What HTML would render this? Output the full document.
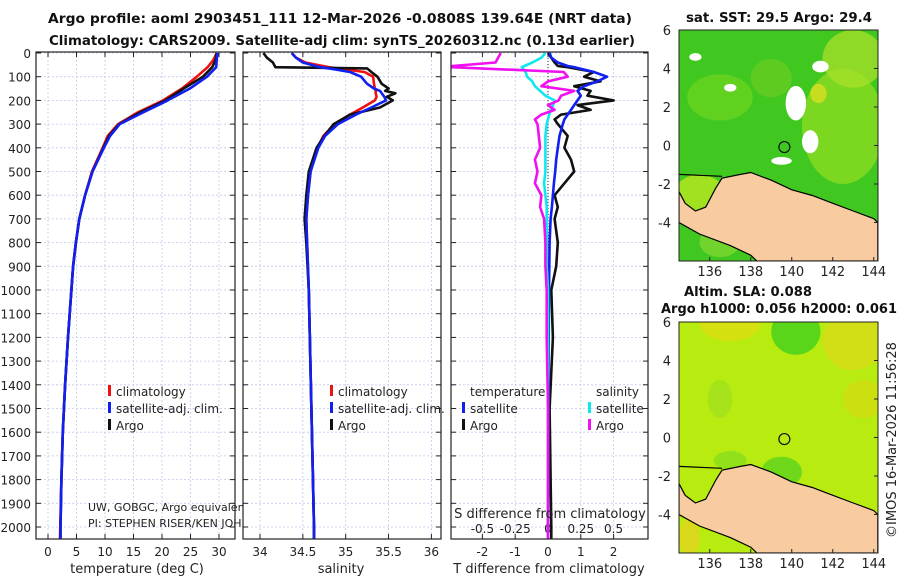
<!DOCTYPE html>
<html><head><meta charset="utf-8"><style>
body{margin:0;background:#fff;}
svg{display:block;font-family:"DejaVu Sans","Liberation Sans",sans-serif;}
</style></head><body>
<svg id="c" width="900" height="580" viewBox="0 0 900 580"></svg>
<script>
// ---------- data ----------
const depthT = [0,30,60,100,150,200,250,300,350,400,500,600,700,800,900,1000,1200,1400,1600,1800,2000,2050];
const tempClim = [29.6,29.0,28.0,26.1,23.5,20.2,15.8,12.3,10.5,9.6,7.7,6.5,5.5,4.9,4.4,4.1,3.5,3.0,2.6,2.35,2.15,2.1];
const tempSat  = [29.7,29.6,29.5,27.9,24.9,21.0,16.7,12.6,10.9,9.8,7.8,6.5,5.5,4.9,4.4,4.1,3.5,3.0,2.6,2.35,2.2,2.2];
const tempArgo = [29.6,29.4,28.8,27.2,23.8,20.6,16.2,12.5,10.7,9.7,7.8,6.5,5.5,4.9,4.4,4.1,3.5,3.0,2.6,2.35,2.2,2.2];
const depthS = [0,20,40,60,65,80,100,130,150,160,170,185,200,230,260,300,350,400,500,600,700,800,1000,1500,2000,2050];
const salClim = [34.37,34.42,34.53,34.8,34.9,35.22,35.32,35.33,35.34,35.35,35.35,35.36,35.34,35.2,35.05,34.87,34.74,34.67,34.59,34.56,34.54,34.55,34.57,34.6,34.63,34.63];
const salSat  = [34.37,34.42,34.5,34.7,34.8,35.05,35.18,35.25,35.33,35.4,35.42,35.45,35.47,35.3,35.12,34.91,34.76,34.68,34.59,34.56,34.54,34.55,34.57,34.6,34.63,34.63];
const salArgo = [34.04,34.08,34.15,34.18,35.25,35.3,35.37,35.42,35.5,35.46,35.58,35.48,35.55,35.4,35.05,34.86,34.75,34.66,34.57,34.54,34.52,34.54,34.57,34.6,34.63,34.63];
const depthD = [0,20,40,55,60,80,100,120,140,160,180,200,220,240,260,280,300,350,400,450,500,550,600,650,700,800,900,1000,1200,1500,2000,2050];
const dTsat  = [0.05,0.1,0.3,0.6,0.8,1.4,1.8,1.5,1.1,0.9,1.0,0.9,0.8,0.7,0.6,0.5,0.45,0.35,0.3,0.25,0.22,0.18,0.15,0.12,0.08,0.05,0.04,0.03,0.02,0.01,0.0,0.0];
const dTargo = [0.0,0.1,0.2,0.3,0.6,1.4,1.1,1.6,0.8,1.3,1.2,2.0,0.9,1.3,0.4,0.2,0.3,0.6,0.5,0.7,0.8,0.5,0.2,0.3,0.2,0.3,0.25,0.1,0.15,0.05,0.1,0.1];
const dSsat  = [-0.02,-0.05,-0.12,-0.18,-0.2,-0.17,-0.16,-0.12,-0.1,-0.06,-0.02,0.05,0.04,0.02,0.01,0.0,-0.01,-0.02,-0.02,-0.02,-0.02,-0.03,-0.02,-0.01,-0.01,-0.01,-0.01,0.0,0.0,0.0,0.0,0.0];
const dSargo = [-0.36,-0.38,-0.4,-0.73,-0.73,0.12,0.15,0.0,-0.05,0.2,0.1,0.08,0.0,0.05,-0.05,-0.1,-0.08,-0.07,-0.06,-0.1,-0.08,-0.1,-0.05,-0.06,-0.03,-0.02,-0.02,-0.01,-0.01,0.0,0.0,0.0];
const depthTicks = [0,100,200,300,400,500,600,700,800,900,1000,1100,1200,1300,1400,1500,1600,1700,1800,1900,2000];
const tTicks = [0,5,10,15,20,25,30];
const sTicks = [34,34.5,35,35.5,36];
const dtTicks = [-2,-1,0,1,2];
const dsTicks = [-0.5,-0.25,0,0.25,0.5];
const lonTicks = [136,138,140,142,144];
const latTicks = [6,4,2,0,-2,-4];
const argoLon = 139.64, argoLat = -0.08;

// ---------- helpers ----------
const svg = document.getElementById('c');
const NS = 'http://www.w3.org/2000/svg';
function mk(tag, attrs, parent){const e=document.createElementNS(NS,tag);for(const k in attrs)e.setAttribute(k,attrs[k]);(parent||svg).appendChild(e);return e;}
function txt(s,x,y,opt,parent){const t=mk('text',Object.assign({x:x,y:y,'font-size':12,fill:'#222'},opt||{}),parent);t.textContent=s;return t;}
const Y = d => 53 + d*0.237;
const TOP=52, BOT=539;

function clipG(x0,x1){const id='pc'+x0;const cp=mk('clipPath',{id:id});mk('rect',{x:x0,y:TOP,width:x1-x0,height:BOT-TOP},cp);return mk('g',{'clip-path':'url(#'+id+')'});}

function panel(name,x0,x1,xs,ticks,fmt){
  const g=mk('g',{});
  
  
  ticks.forEach(v=>{mk('line',{x1:xs(v),x2:xs(v),y1:TOP,y2:BOT,stroke:'#c4c8ec','stroke-width':0.8,'stroke-dasharray':'2,2'},g);});
  depthTicks.forEach(v=>{mk('line',{x1:x0,x2:x1,y1:Y(v),y2:Y(v),stroke:'#c4c8ec','stroke-width':0.8,'stroke-dasharray':'2,2'},g);
    mk('line',{x1:x0,x2:x0+5,y1:Y(v),y2:Y(v),stroke:'#222'},g);mk('line',{x1:x1-5,x2:x1,y1:Y(v),y2:Y(v),stroke:'#222'},g);});
  ticks.forEach(v=>{mk('line',{x1:xs(v),x2:xs(v),y1:BOT,y2:BOT-5,stroke:'#222'},g);mk('line',{x1:xs(v),x2:xs(v),y1:TOP,y2:TOP+5,stroke:'#222'},g);
    if(fmt){const t=txt(fmt(v),xs(v),556,{'text-anchor':'middle'},g);}});
  return g;
}
function frame(x0,x1){mk('rect',{x:x0,y:TOP,width:x1-x0,height:BOT-TOP,fill:'none',stroke:'#222','stroke-width':1.2});}
function line(name,xs,vals,deps,color,w){
  const p=vals.map((v,i)=>xs(v).toFixed(1)+','+Y(deps[i]).toFixed(1)).join(' ');
  const e=mk('polyline',{points:p,fill:'none',stroke:color,'stroke-width':w,'stroke-linejoin':'round'});
  
  
}

// titles
let t1=txt('Argo profile: aoml 2903451_111 12-Mar-2026 -0.0808S 139.64E (NRT data)',340,23,{'text-anchor':'middle','font-weight':'bold','font-size':13,fill:'#111',textLength:584,lengthAdjust:'spacingAndGlyphs'});

let t2=txt('Climatology: CARS2009. Satellite-adj clim: synTS_20260312.nc (0.13d earlier)',342,45,{'text-anchor':'middle','font-weight':'bold','font-size':13,fill:'#111',textLength:586,lengthAdjust:'spacingAndGlyphs'});


// depth labels
depthTicks.forEach(v=>{const t=txt(String(v),31,Y(v)+5,{'text-anchor':'end'});});

// panel 1 temperature
const xT = v => 48 + v*5.7;
panel('temperature-panel',36,235,xT,tTicks,v=>String(v));
line('temp-climatology',xT,tempClim,depthT,'#f01010',2.6);
line('temp-argo',xT,tempArgo,depthT,'#111',2.6);
line('temp-satellite',xT,tempSat,depthT,'#1020f0',2.6);
let a=txt('temperature (deg C)',137,573,{'text-anchor':'middle','font-size':13});

// panel 2 salinity
const xS = v => 260 + (v-34)*85.7;
panel('salinity-panel',243,441,xS,sTicks,v=>String(v));
line('sal-climatology',xS,salClim,depthS,'#f01010',2.6);
line('sal-argo',xS,salArgo,depthS,'#111',2.6);
line('sal-satellite',xS,salSat,depthS,'#1020f0',2.6);
a=txt('salinity',341,573,{'text-anchor':'middle','font-size':13});

// panel 3 differences
const xD = v => 548 + v*32.8;
const xDS = v => 548 + v*131.2;
panel('difference-panel',451,648,xD,dtTicks,v=>String(v));
mk('line',{x1:548,x2:548,y1:TOP,y2:BOT,stroke:'#333','stroke-width':1,'stroke-dasharray':'1,2'});
dsTicks.forEach(v=>{const t=txt(String(v),xDS(v),533,{'text-anchor':'middle'});});
line('dT-argo',xD,dTargo,depthD,'#111',2.6);
line('dT-satellite',xD,dTsat,depthD,'#1020f0',2.6);
line('dS-satellite',xDS,dSsat,depthD,'#10e8f0',2.6);
line('dS-argo',xDS,dSargo,depthD,'#f010f0',2.6);
a=txt('S difference from climatology',550,518,{'text-anchor':'middle','font-size':13});
a=txt('T difference from climatology',549,573,{'text-anchor':'middle','font-size':13});

// legends (clipped at the next panel's frame)
const g1=clipG(36,243), g2=clipG(243,451), g3=clipG(451,660);
function leg(name,x,y,color,label,par){const g=mk('g',{},par);
  mk('rect',{x:x,y:y-11,width:3,height:11,fill:color},g);txt(label,x+8,y,{'font-size':12},g);}
leg('legend-climatology',108,396,'#f01010','climatology',g1);
leg('legend-satellite-adj',108,413,'#1020f0','satellite-adj. clim.',g1);
leg('legend-argo',108,430,'#111','Argo',g1);
leg('legend-climatology-2',330,396,'#f01010','climatology',g2);
leg('legend-satellite-adj-2',330,413,'#1020f0','satellite-adj. clim.',g2);
leg('legend-argo-2',330,430,'#111','Argo',g2);
a=txt('temperature',470,396,{'font-size':12},g3);
leg('legend-t-satellite',462,413,'#1020f0','satellite',g3);
leg('legend-t-argo',462,430,'#111','Argo',g3);
a=txt('salinity',596,396,{'font-size':12},g3);
leg('legend-s-satellite',588,413,'#10e8f0','satellite',g3);
leg('legend-s-argo',588,430,'#f010f0','Argo',g3);
a=txt('UW, GOBGC, Argo equivalent',88,511,{'font-size':11},g1);
a=txt('PI: STEPHEN RISER/KEN JOHNSON',88,527,{'font-size':11},g1);
frame(36,235);frame(243,441);frame(451,648);

// ---------- maps ----------
const MX0=679, MX1=878;
const lonX = l => 679 + (l-134.5)*20.5;
const land = [[134.5,-2.4],[134.8,-3.0],[135.3,-3.4],[135.8,-3.2],[136.3,-2.2],[136.6,-1.7],[137.5,-1.5],[138,-1.4],[139,-1.8],[140,-2.3],[141,-2.6],[142,-3.0],[143,-3.4],[144,-3.8],[144.2,-4.0],[144.2,-6],[138.3,-6],[138,-5.7],[137,-5.2],[135.5,-4.6],[134.5,-4.0]];
function map(name,y0,style){
  const latY = l => y0 + (6-l)*19.25;
  const y1 = latY(-6);
  const g=mk('g',{});
  const cid='clip'+y0;
  const cp=mk('clipPath',{id:cid},g);mk('rect',{x:MX0,y:y0,width:MX1-MX0,height:y1-y0},cp);
  const gi=mk('g',{'clip-path':'url(#'+cid+')'},g);
  if(style==='sst'){
    mk('rect',{x:MX0,y:y0,width:MX1-MX0,height:y1-y0,fill:'#40c820'},gi);
    [[142.5,1,2,3,'#90dc20'],[143,4.5,1.5,1.5,'#a8e028'],[136.5,2.5,1.6,1.2,'#6cd420'],[135.5,-2.5,1.2,1,'#c0ea20'],[141.3,2.7,0.4,0.5,'#e0e020'],[139,3.5,1,1,'#68cc20'],[136.5,-5,1,0.8,'#80d830']].forEach(b=>mk('ellipse',{cx:lonX(b[0]),cy:latY(b[1]),rx:b[2]*20.5,ry:b[3]*19.25,fill:b[4],opacity:0.75},gi));
    [[140.2,2.2,0.5,0.9],[140.9,0.2,0.4,0.6],[135.3,4.6,0.3,0.2],[139.5,-0.8,0.5,0.2],[137,3,0.3,0.2],[141.4,4.1,0.4,0.3]].forEach(b=>mk('ellipse',{cx:lonX(b[0]),cy:latY(b[1]),rx:b[2]*20.5,ry:b[3]*19.25,fill:'#fff'},gi));
  } else {
    mk('rect',{x:MX0,y:y0,width:MX1-MX0,height:y1-y0,fill:'#b8ec10'},gi);
    [[137,6,1.5,1,'#e0dc10'],[143,5,1.5,1.5,'#dcd818'],[143.5,2,1,1,'#d4dc10'],[140.2,5.5,1.2,1.2,'#30cc20'],[139.5,-1.8,1,0.8,'#50d020'],[137,-1.2,0.8,0.5,'#80dc20'],[136.5,2,0.6,1,'#a0e020'],[135,-5.2,0.5,1,'#e8d020']].forEach(b=>mk('ellipse',{cx:lonX(b[0]),cy:latY(b[1]),rx:b[2]*20.5,ry:b[3]*19.25,fill:b[4],opacity:0.7},gi));
  }
  const lp=mk('polygon',{points:land.map(p=>lonX(p[0]).toFixed(1)+','+latY(p[1]).toFixed(1)).join(' '),fill:'#f8cba0',stroke:'#000','stroke-width':1.2},gi);
  
  mk('polyline',{points:[[134.5,-1.5],[136.6,-1.6]].map(p=>lonX(p[0])+','+latY(p[1])).join(' '),fill:'none',stroke:'#000','stroke-width':1.2},gi);
  const m=mk('circle',{cx:lonX(argoLon),cy:latY(argoLat),r:5.5,fill:'none',stroke:'#111','stroke-width':1.2},g);
  
  mk('rect',{x:MX0,y:y0,width:MX1-MX0,height:y1-y0,fill:'none',stroke:'#222','stroke-width':1},g);
  latTicks.forEach(l=>{const t=txt(String(l),671,latY(l)+5,{'text-anchor':'end','font-size':13},g);
    mk('line',{x1:MX1,x2:MX1-4,y1:latY(l),y2:latY(l),stroke:'#222'},g);});
  lonTicks.forEach(l=>{const t=txt(String(l),lonX(l),y1+15,{'text-anchor':'middle','font-size':13},g);
    mk('line',{x1:lonX(l),x2:lonX(l),y1:y1,y2:y1-4,stroke:'#222'},g);});
}
map('sst-map',30,'sst');
map('sla-map',322,'sla');
a=txt('sat. SST: 29.5 Argo: 29.4',779,22,{'text-anchor':'middle','font-weight':'bold','font-size':13,fill:'#111',textLength:186,lengthAdjust:'spacingAndGlyphs'});
a=txt('Altim. SLA: 0.088',748,296,{'text-anchor':'middle','font-weight':'bold','font-size':13,fill:'#111',textLength:128,lengthAdjust:'spacingAndGlyphs'});
a=txt('Argo h1000: 0.056 h2000: 0.061',779,313,{'text-anchor':'middle','font-weight':'bold','font-size':13,fill:'#111',textLength:236,lengthAdjust:'spacingAndGlyphs'});
a=txt('©IMOS 16-Mar-2026 11:56:28',0,0,{'text-anchor':'middle','font-size':13,'transform':'translate(896,440) rotate(-90)'});
</script>
</body></html>
